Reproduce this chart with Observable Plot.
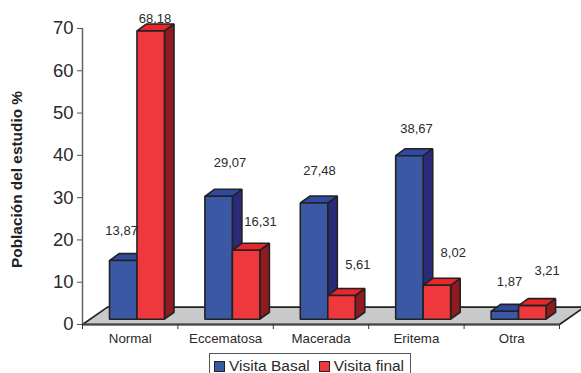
<!DOCTYPE html>
<html>
<head>
<meta charset="utf-8">
<script src="https://cdn.jsdelivr.net/npm/d3@7"></script>
<script src="https://cdn.jsdelivr.net/npm/@observablehq/plot@0.6"></script>
<style>
  html, body { margin: 0; padding: 0; background: #fff; overflow: hidden; height: 373px; }
  #chart svg { display: block; }
  #legend {
    position: absolute; left: 209px; top: 353px; width: 202px; height: 40px; box-sizing: border-box;
    border: 1px solid #555; background: #fff; font: 15.5px "Liberation Sans", Arial, sans-serif; color: #2a2a2a;
    display: flex; gap: 9px; padding: 3px 0 0 4px;
  }
  #legend span { display: inline-flex; align-items: flex-start; gap: 4px; line-height: 17px; }
  #legend i { display: inline-block; width: 9px; height: 9px; margin-top: 4px; border: 1px solid #222; }
</style>
</head>
<body>
<div id="chart"></div>
<div id="legend"></div>
<script>
const categories = ["Normal", "Eccematosa", "Macerada", "Eritema", "Otra"];
const visitaBasal = [13.87, 29.07, 27.48, 38.67, 1.87];
const visitaFinal = [68.18, 16.31, 5.61, 8.02, 3.21];
const seriesNames = ["Visita Basal", "Visita final"];

// Where each value label sits, in axis units (category position, axis level).
const labelBasalX = [0.41, 1.546, 2.484, 3.501, 4.476];
const labelBasalY = [22.2, 38.2, 36.4, 46.3, 10.2];
const labelFinalX = [0.76, 1.866, 2.886, 3.886, 4.87];
const labelFinalY = [72.2, 24.35, 14.1, 17, 12.8];

// Fake-3D geometry, in axis units.
const barInset = 0.283, barWidth = 0.288;
const barDepthX = 0.1, barDepthY = 1.65;
const floorFront = 1.25, floorDepthX = 0.262, floorDepthY = 4.1;

const faces = [
  {front: "#3a58a4", top: "#2f4a9e", side: "#2b2a7a"},
  {front: "#ef383e", top: "#e8262c", side: "#8f1a20"}
];

// One closed polygon per record, so the line mark can fill and outline it.
const polygons = [];
const addPolygon = (id, fill, pts) => pts.forEach(([x, y]) => polygons.push({id, fill, x, y}));

addPolygon("floor", "#c8c9cb", [
  [0, 0], [5, 0], [5 + floorDepthX, floorDepthY], [floorDepthX, floorDepthY]
]);

categories.forEach((name, i) => {
  [visitaBasal[i], visitaFinal[i]].forEach((value, s) => {
    const x1 = i + barInset + s * barWidth, x2 = x1 + barWidth;
    const y1 = floorFront, y2 = floorFront + value;
    const c = faces[s], id = `${name}-${s}`;
    addPolygon(id + "-side", c.side, [
      [x2, y1], [x2 + barDepthX, y1 + barDepthY], [x2 + barDepthX, y2 + barDepthY], [x2, y2]
    ]);
    addPolygon(id + "-top", c.top, [
      [x1, y2], [x2, y2], [x2 + barDepthX, y2 + barDepthY], [x1 + barDepthX, y2 + barDepthY]
    ]);
    addPolygon(id + "-front", c.front, [[x1, y1], [x2, y1], [x2, y2], [x1, y2]]);
  });
});

const fmt = v => v.toFixed(2).replace(".", ",");
const labels = [
  ...visitaBasal.map((v, i) => ({text: fmt(v), x: labelBasalX[i], y: labelBasalY[i]})),
  ...visitaFinal.map((v, i) => ({text: fmt(v), x: labelFinalX[i], y: labelFinalY[i]}))
];

const chart = Plot.plot({
  width: 581,
  height: 353,
  marginLeft: 82,
  marginRight: 22,
  marginTop: 28,
  marginBottom: 29,
  style: {fontFamily: "'Liberation Sans', Arial, sans-serif", background: "#fff"},
  x: {type: "linear", domain: [0, 5], axis: null},
  y: {type: "linear", domain: [0, 70], axis: null},
  marks: [
    Plot.line(polygons, {
      x: "x", y: "y", z: "id", fill: "fill", stroke: "#222",
      strokeWidth: 1.6, curve: "linear-closed", strokeLinejoin: "miter"
    }),
    // Value axis
    Plot.ruleX([0], {stroke: "#666", strokeWidth: 1.5}),
    Plot.axisY({
      ticks: d3.range(0, 71, 10), tickSize: 5, tickPadding: 4, fontSize: 18.5, stroke: "#555",
      fill: "#2a2a2a", label: null
    }),
    // Category axis
    Plot.ruleY([0], {stroke: "#444", strokeWidth: 1.8}),
    Plot.axisX({
      ticks: d3.range(0, 6), tickSize: 5, tickFormat: () => "", stroke: "#333", label: null
    }),
    Plot.text(categories, {
      x: (d, i) => i + 0.5, y: 0, dy: 14.5, fontSize: 13.3, fill: "#2a2a2a", text: d => d
    }),
    Plot.text(["Población del estudio %"], {
      frameAnchor: "left", textAnchor: "middle", rotate: -90, dx: -65, dy: 3, fontSize: 15.4, fontWeight: "bold", fill: "#222"
    }),
    Plot.text(labels, {x: "x", y: "y", text: "text", fontSize: 13, fill: "#2a2a2a"})
  ]
});
document.getElementById("chart").append(chart);

const legend = document.getElementById("legend");
seriesNames.forEach((name, s) => {
  const item = document.createElement("span");
  const swatch = document.createElement("i");
  swatch.style.background = faces[s].front;
  item.append(swatch, name);
  legend.append(item);
});
</script>
</body>
</html>
